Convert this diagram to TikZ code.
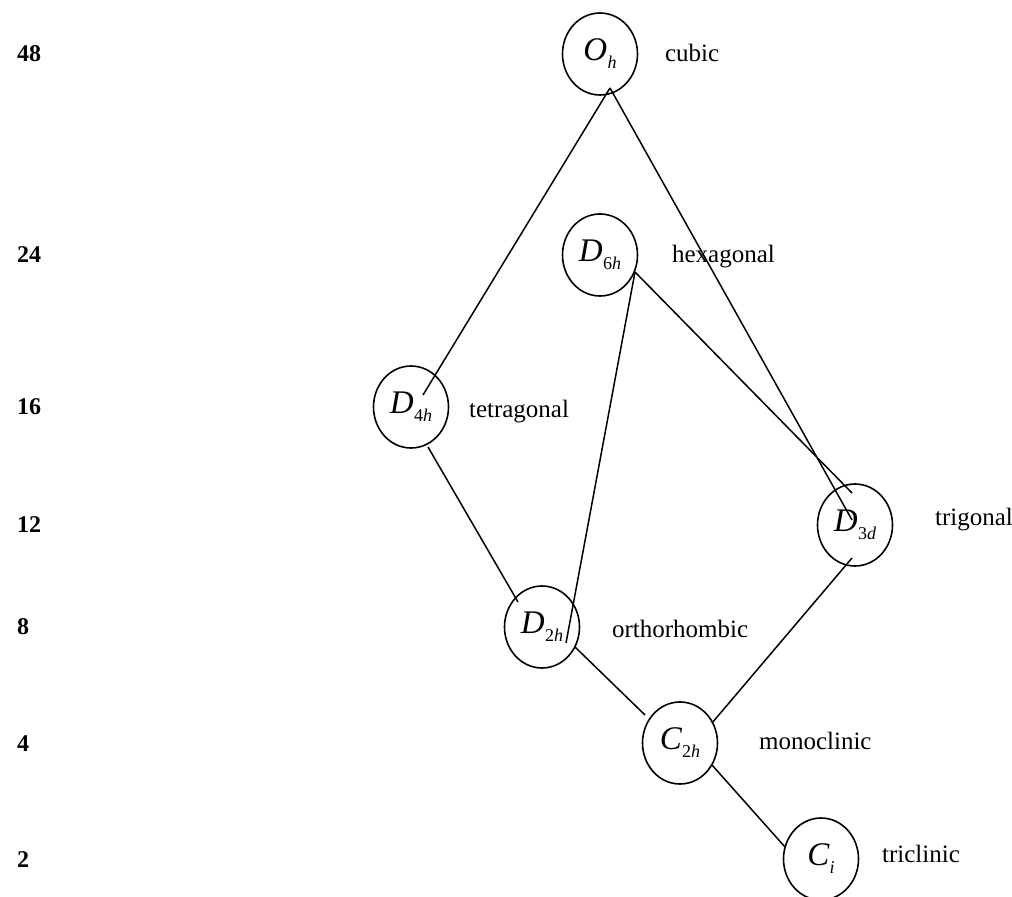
\documentclass[tikz,border=0pt]{standalone}
\usepackage{fontspec}
\setmainfont{Liberation Serif}
\usetikzlibrary{shapes.geometric}
\newcommand{\grp}[2]{{\fontsize{16.5}{18}\selectfont\itshape #1}\kern0.2pt\raisebox{-4pt}{\fontsize{9}{10}\selectfont #2}}
\begin{document}
\begin{tikzpicture}[x=0.5pt,y=-0.5pt,
  grpnode/.style={draw, ellipse, minimum width=37.5pt, minimum height=41pt, inner sep=0pt, line width=0.8pt},
  sys/.style={anchor=base west, font=\fontsize{12.5}{14}\selectfont},
  ord/.style={anchor=base west, font=\fontsize{12}{14}\selectfont\bfseries},
  link/.style={line width=0.75pt}]
\useasboundingbox (0,0) rectangle (1012,897);
% group nodes
\node[grpnode] (Oh)  at (600,54)  {\grp{O}{\textit{h}}};
\node[grpnode] (D6h) at (600,255) {\grp{D}{6\textit{h}}};
\node[grpnode] (D4h) at (411,407) {\grp{D}{4\textit{h}}};
\node[grpnode] (D3d) at (855,525) {\grp{D}{3\textit{d}}};
\node[grpnode] (D2h) at (542,627) {\grp{D}{2\textit{h}}};
\node[grpnode] (C2h) at (680,743) {\grp{C}{2\textit{h}}};
\node[grpnode] (Ci)  at (821,859) {\grp{C}{\textit{i}}};
% connector end points
\coordinate (Oh-s)   at ([shift={(10,34)}]Oh.center);
\coordinate (D6h-s)  at ([shift={(35,17)}]D6h.center);
\coordinate (D4h-in) at ([shift={(12,-12)}]D4h.center);
\coordinate (D4h-s)  at ([shift={(17,40)}]D4h.center);
\coordinate (D3d-a)  at ([shift={(-3,-5)}]D3d.center);
\coordinate (D3d-b)  at ([shift={(-3,-32)}]D3d.center);
\coordinate (D3d-s)  at ([shift={(-3,33)}]D3d.center);
\coordinate (D2h-nw) at ([shift={(-24,-25)}]D2h.center);
\coordinate (D2h-in) at ([shift={(24,16)}]D2h.center);
\coordinate (D2h-se) at ([shift={(33,20)}]D2h.center);
\coordinate (C2h-nw) at ([shift={(-35,-28)}]C2h.center);
\coordinate (C2h-ne) at ([shift={(32,-20)}]C2h.center);
\coordinate (C2h-se) at ([shift={(32,22)}]C2h.center);
\coordinate (Ci-w)   at ([shift={(-36,-12)}]Ci.center);
% connectors
\draw[link] (Oh-s) -- (D4h-in);
\draw[link] (Oh-s) -- (D3d-a);
\draw[link] (D6h-s) -- (D2h-in);
\draw[link] (D6h-s) -- (D3d-b);
\draw[link] (D4h-s) -- (D2h-nw);
\draw[link] (D2h-se) -- (C2h-nw);
\draw[link] (D3d-s) -- (C2h-ne);
\draw[link] (C2h-se) -- (Ci-w);
% crystal systems
\node[sys] (l-cub) at (658,62)  {cubic};
\node[sys] (l-hex) at (665,263) {hexagonal};
\node[sys] (l-tet) at (462,418) {tetragonal};
\node[sys] (l-tri) at (928,526) {trigonal};
\node[sys] (l-ort) at (605,638) {orthorhombic};
\node[sys] (l-mon) at (752,749) {monoclinic};
\node[sys] (l-tcl) at (875,862) {triclinic};
% group orders
\node[ord] (n48) at (10,62)  {48};
\node[ord] (n24) at (10,263) {24};
\node[ord] (n16) at (10,415) {16};
\node[ord] (n12) at (10,533) {12};
\node[ord] (n8)  at (10,635) {8};
\node[ord] (n4)  at (10,751) {4};
\node[ord] (n2)  at (10,867) {2};
\end{tikzpicture}
\end{document}
